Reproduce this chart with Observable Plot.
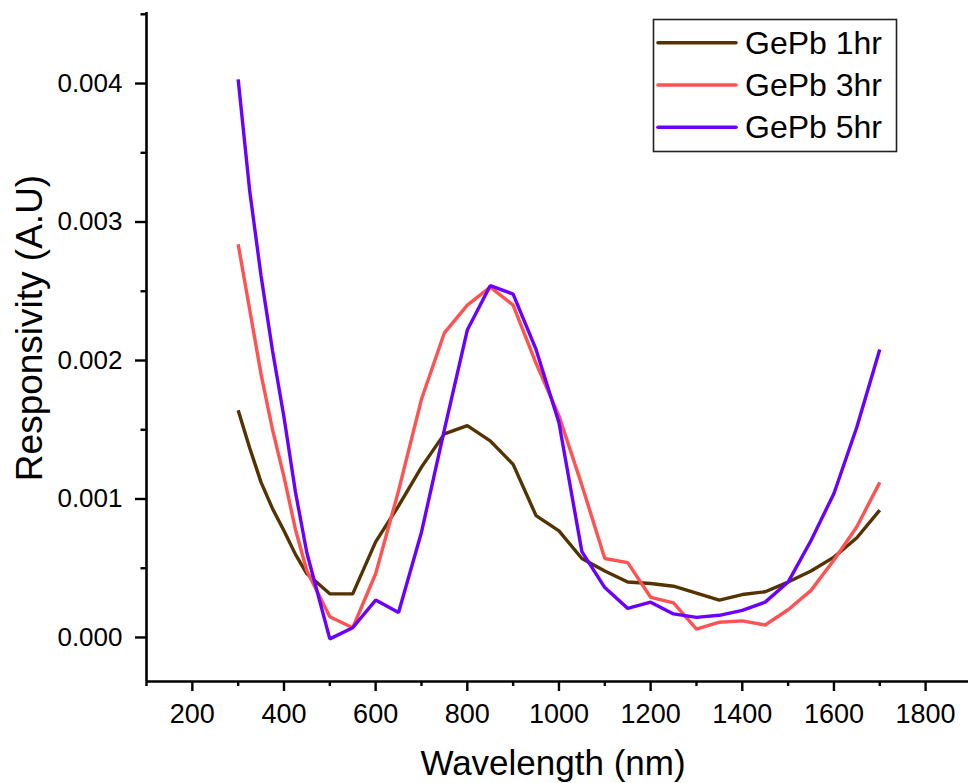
<!DOCTYPE html>
<html>
<head>
<meta charset="utf-8">
<script src="https://cdn.jsdelivr.net/npm/d3@7"></script>
<script src="https://cdn.jsdelivr.net/npm/@observablehq/plot@0.6"></script>
<style>
  html, body { margin: 0; padding: 0; background: #fff; }
  #chart { position: relative; width: 968px; height: 783px; }
  svg { font-family: "Liberation Sans", Arial, sans-serif; }
</style>
</head>
<body>
<div id="chart"></div>
<script>
// ---- data ----
const wavelength = [300, 325, 350, 375, 400, 425, 450,
  500, 550, 600, 650, 700, 750, 800, 850, 900, 950, 1000, 1050, 1100, 1150, 1200,
  1250, 1300, 1350, 1400, 1450, 1500, 1550, 1600, 1650, 1700];

const gepb1hr = [0.00164, 0.00137, 0.00112, 0.00093, 0.00077, 0.0006, 0.00046,
  0.000315, 0.000315, 0.00069, 0.00095, 0.00123, 0.00147, 0.00153, 0.00142, 0.00125, 0.00088, 0.00077, 0.00057, 0.00048, 0.0004, 0.00039,
  0.00037, 0.00032, 0.00027, 0.00031, 0.00033, 0.0004, 0.00048, 0.00058, 0.00072, 0.00092];

const gepb3hr = [0.00284, 0.00237, 0.0019, 0.0015, 0.00116, 0.00078, 0.00048,
  0.00015, 0.00007, 0.00046, 0.00106, 0.00172, 0.0022, 0.0024, 0.00253, 0.0024, 0.00198, 0.0016, 0.0011, 0.00057, 0.00054, 0.00029,
  0.00025, 0.00006, 0.00011, 0.00012, 0.00009, 0.0002, 0.00034, 0.00056, 0.0008, 0.00112];

const gepb5hr = [0.00403, 0.00323, 0.00261, 0.00207, 0.00159, 0.00105, 0.00061,
  -0.00001, 0.00007, 0.00027, 0.00018, 0.00076, 0.0015, 0.00222, 0.00254, 0.00248, 0.00208, 0.00155, 0.00062, 0.00036, 0.00021, 0.000255,
  0.00017, 0.000145, 0.00016, 0.000195, 0.000255, 0.0004, 0.0007, 0.00104, 0.00152, 0.00208];

const seriesNames = ["GePb 1hr", "GePb 3hr", "GePb 5hr"];
const seriesColors = ["#553300", "#ff5252", "#6a00ff"];
const seriesValues = [gepb1hr, gepb3hr, gepb5hr];

const xMajorTicks = [200, 400, 600, 800, 1000, 1200, 1400, 1600, 1800];
const xMinorTicks = [100, 300, 500, 700, 900, 1100, 1300, 1500, 1700];
const yMajorTicks = [0, 0.001, 0.002, 0.003, 0.004];
const yMinorTicks = [0.0005, 0.0015, 0.0025, 0.0035, 0.0045];

const xTitle = "Wavelength (nm)";
const yTitle = "Responsivity (A.U)";

// ---- build table ----
const rows = [];
seriesNames.forEach((name, s) => {
  wavelength.forEach((w, i) => rows.push({series: name, w, v: seriesValues[s][i]}));
});

const xDomain = [100, 1893.6];
const yDomain = [-0.000318, 0.004513];
const W = 968, H = 783;

const plot = Plot.plot({
  width: W,
  height: H,
  marginLeft: 146,
  marginRight: 0,
  marginTop: 12,
  marginBottom: 102,
  style: {fontFamily: '"Liberation Sans", Arial, sans-serif', background: "#fff", color: "#000", overflow: "visible"},
  x: {domain: xDomain, axis: null},
  y: {domain: yDomain, axis: null},
  color: {domain: seriesNames, range: seriesColors},
  marks: [
    // axis lines
    Plot.ruleX([xDomain[0]], {stroke: "#000", strokeWidth: 2.6}),
    Plot.ruleY([yDomain[0]], {stroke: "#000", strokeWidth: 2.6}),
    // y ticks
    Plot.axisY(yMajorTicks, {anchor: "left", label: null, tickSize: 11, tickPadding: 13, strokeWidth: 2.4,
      tickFormat: d3.format(".3f"), fontSize: 26, fill: "#000", stroke: "#000"}),
    Plot.axisY(yMinorTicks, {anchor: "left", label: null, tickSize: 5.5, strokeWidth: 2.4, tickFormat: () => "", stroke: "#000"}),
    // x ticks
    Plot.axisX(xMajorTicks, {anchor: "bottom", label: null, tickSize: 10, tickPadding: 12, strokeWidth: 2.4,
      tickFormat: d => String(d), fontSize: 27, fill: "#000", stroke: "#000"}),
    Plot.axisX(xMinorTicks, {anchor: "bottom", label: null, tickSize: 5, strokeWidth: 2.4, tickFormat: () => "", stroke: "#000"}),
    // data lines
    Plot.line(rows, {x: "w", y: "v", z: "series", stroke: "series", strokeWidth: 3.4, strokeLinejoin: "miter", strokeLinecap: "butt"})
  ]
});

document.getElementById("chart").appendChild(plot);

// axis titles and legend
const svg = d3.select(plot);
svg.append("text")
  .attr("transform", "translate(42,328) rotate(-90)")
  .attr("text-anchor", "middle")
  .attr("font-size", 37)
  .attr("fill", "#000")
  .text(yTitle);

svg.append("text")
  .attr("x", 553)
  .attr("y", 775)
  .attr("text-anchor", "middle")
  .attr("font-size", 35)
  .attr("fill", "#000")
  .text(xTitle);

const lg = svg.append("g");
lg.append("rect")
  .attr("x", 653.5).attr("y", 19.5).attr("width", 243).attr("height", 132)
  .attr("fill", "#fff").attr("stroke", "#222").attr("stroke-width", 1.6);
seriesNames.forEach((name, i) => {
  const cy = 42.7 + i * 42.3;
  lg.append("line")
    .attr("x1", 658).attr("x2", 736).attr("y1", cy).attr("y2", cy)
    .attr("stroke", seriesColors[i]).attr("stroke-width", 3.6).attr("stroke-linecap", "round");
  lg.append("text")
    .attr("x", 745).attr("y", cy + 11)
    .attr("text-anchor", "start")
    .attr("font-size", 32)
    .attr("fill", "#000")
    .text(name);
});
</script>
</body>
</html>
